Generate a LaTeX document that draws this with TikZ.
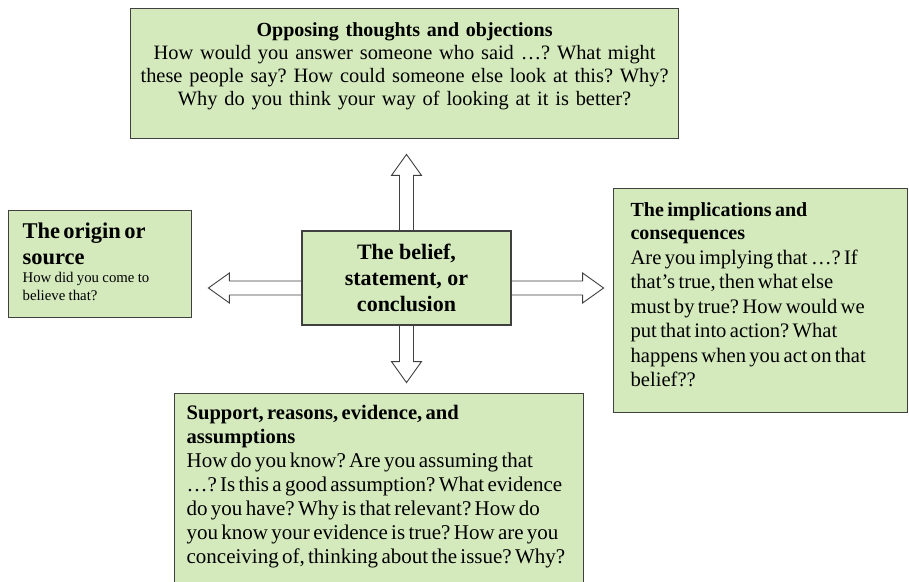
\documentclass[tikz,border=0pt]{standalone}
\usepackage{fontspec}
\setmainfont{Liberation Serif}
\usetikzlibrary{backgrounds}

\definecolor{boxfill}{RGB}{212,234,189}
\definecolor{boxline}{RGB}{64,64,64}

\tikzset{
  box/.style={draw=boxline, fill=boxfill, line width=1.2pt, anchor=north west, inner xsep=17pt,
              execute at begin node={\frenchspacing\hyphenpenalty10000 }},
  arrowbody/.style={draw=boxline, fill=white, line width=0.9pt, line join=miter},
}

% hollow block arrow: start point, direction, length
\newcommand{\blockarrow}[3]{%
  \begin{scope}[on background layer, shift={(#1)}, rotate=#2]
    \filldraw[arrowbody] (0,7) -- (#3-21,7) -- (#3-21,15) -- (#3,0) -- (#3-21,-15) -- (#3-21,-7) -- (0,-7);
  \end{scope}}

\begin{document}
\begin{tikzpicture}[x=1pt, y=-1pt]
  \useasboundingbox (0,0) rectangle (909,581);

  \node [box, text width=540pt, inner xsep=4pt, align=center, inner ysep=12pt, text height=16pt, text depth=90pt,
         font=\fontsize{20.4}{23}\selectfont] (opposing) at (130,8)
    {{\fontsize{20}{23}\selectfont\bfseries Opposing thoughts and objections}\\
     How would you answer someone who said …? What might\\
     these people say? How could someone else look at this? Why?\\
     Why do you think your way of looking at it is better?};

  \node [box, anchor=center, align=center, minimum width=209pt, minimum height=94pt,
         font=\fontsize{22}{26}\selectfont\bfseries] (belief) at (406.5,278)
    {The belief,\\ statement, or\\ conclusion};

  \node [box, text width=155pt, inner xsep=14pt, inner ysep=12pt, text height=16pt, text depth=67pt,
         align=left] (origin) at (8,210)
    {{\fontsize{22.5}{26}\selectfont\bfseries The origin or\\ source\par}%
     {\fontsize{14.8}{18}\selectfont How did you come to\\ believe that?\par}};

  \node [box, text width=260pt, inner ysep=13pt, text height=15pt, text depth=183pt,
         align=left] (implications) at (613,188)
    {{\fontsize{20}{23}\selectfont\bfseries The implications and\\ consequences\par}%
     {\fontsize{20.6}{24.5}\selectfont Are you implying that …? If\\ that’s true, then what else\\
      must by true? How would we\\ put that into action? What\\ happens when you act on that\\ belief??\par}};

  \node [box, text width=385pt, inner xsep=12pt, inner ysep=11pt, text height=15pt, text depth=163pt,
         align=left] (support) at (174,393)
    {{\fontsize{20.6}{24}\selectfont\bfseries Support, reasons, evidence, and\\ assumptions\par}%
     {\fontsize{21}{24}\selectfont How do you know? Are you assuming that\\
      …? Is this a good assumption? What evidence\\ do you have? Why is that relevant? How do\\
      you know your evidence is true? How are you\\ conceiving of, thinking about the issue? Why?\par}};

  % arrows out of the belief
  \blockarrow{belief.north}{90}{76}
  \blockarrow{belief.south}{-90}{57}
  \blockarrow{[yshift=-10pt]belief.west}{180}{93}
  \blockarrow{[yshift=-10pt]belief.east}{0}{92}
\end{tikzpicture}
\end{document}
